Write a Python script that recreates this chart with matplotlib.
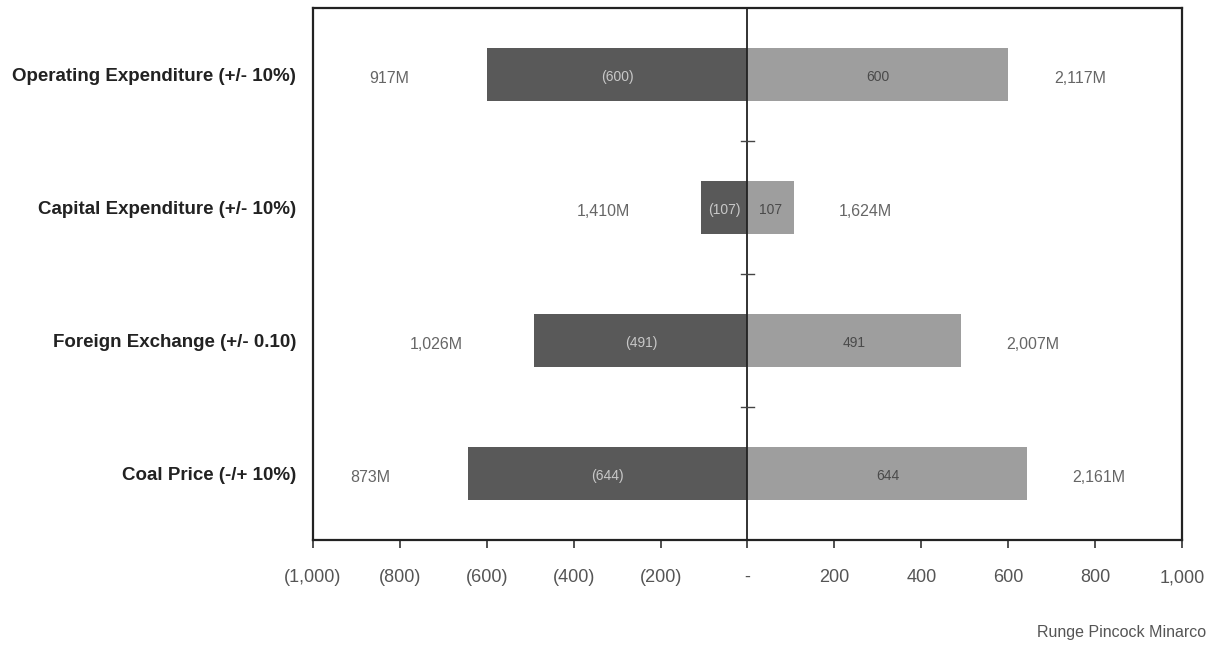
"""
Tornado chart - NPV sensitivity (Runge Pincock Minarco)
"""

import matplotlib
matplotlib.use('Agg')
import matplotlib.pyplot as plt
import numpy as np

plt.rcParams['font.family'] = ['Liberation Sans Narrow', 'Liberation Sans', 'DejaVu Sans']

# data
categories = ['Operating Expenditure (+/- 10%)', 'Capital Expenditure (+/- 10%)',
              'Foreign Exchange (+/- 0.10)', 'Coal Price (-/+ 10%)']
low_delta = [-600, -107, -491, -644]
high_delta = [600, 107, 491, 644]
low_npv = ['917M', '1,410M', '1,026M', '873M']
high_npv = ['2,117M', '1,624M', '2,007M', '2,161M']
x_ticks = [-1000, -800, -600, -400, -200, 0, 200, 400, 600, 800, 1000]


def fmt(v):
    if v == 0:
        return '-'
    if v < 0:
        return f'({-v:,.0f})'
    return f'{v:,.0f}'


fig = plt.figure(figsize=(12.18, 6.52), dpi=100)
ax = fig.add_axes([0.257, 0.172, 0.7134, 0.8157])

y = np.arange(len(categories))
dark = '#595959'
light = '#9e9e9e'
ax.barh(y, low_delta, height=0.4, color=dark, zorder=2)
ax.barh(y, high_delta, height=0.4, color=light, zorder=2)

# labels inside bars and NPV values outside
for i in range(len(categories)):
    ax.text(low_delta[i] / 2, y[i] + 0.02, fmt(low_delta[i]), ha='center', va='center',
            fontsize=10, color='#c8c8c8', zorder=3)
    ax.text(high_delta[i] / 2, y[i] + 0.02, fmt(high_delta[i]), ha='center', va='center',
            fontsize=10, color='#4a4a4a', zorder=3)
    ax.text(low_delta[i] - 225, y[i] + 0.03, low_npv[i], ha='center', va='center',
            fontsize=11.5, color='#666666')
    ax.text(high_delta[i] + 165, y[i] + 0.03, high_npv[i], ha='center', va='center',
            fontsize=11.5, color='#666666')

# centre line with small ticks between categories
ax.axvline(0, color='#222222', linewidth=1.3, zorder=4)
for m in y[:-1] + 0.5:
    ax.plot([-14, 14], [m, m], color='#444444', linewidth=1.0, zorder=4)

ax.set_xlim(-1000, 1000)
ax.set_ylim(3.5, -0.5)
ax.set_xticks(x_ticks)
ax.set_xticklabels([fmt(v) for v in x_ticks], fontsize=13, color='#555555')
ax.tick_params(axis='x', direction='out', length=6, width=1.2, color='#333333', pad=15)

ax.set_yticks(y)
ax.set_yticklabels(categories, fontsize=13.5, fontweight='bold', color='#222222')
ax.tick_params(axis='y', length=0, pad=12)

for s in ax.spines.values():
    s.set_linewidth(1.6)
    s.set_color('#222222')

fig.text(0.99, 0.03, 'Runge Pincock Minarco', ha='right', va='center',
         fontsize=11.5, color='#555555')

plt.savefig('out.png', dpi=100)
plt.close()
